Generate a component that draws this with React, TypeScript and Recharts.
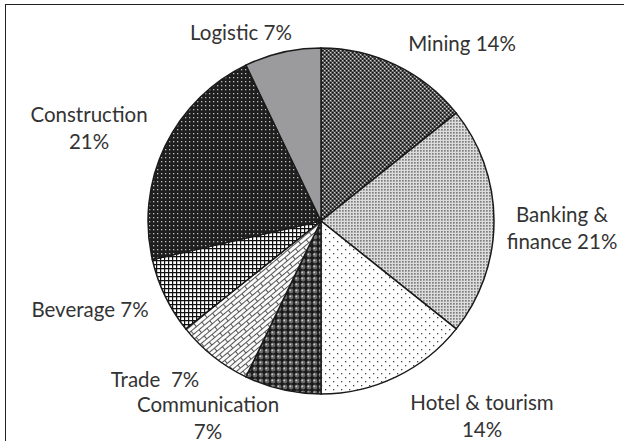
import React from 'react';
import { PieChart, Pie, Cell } from 'recharts';

const sectors = ['Mining', 'Banking & finance', 'Hotel & tourism', 'Communication', 'Trade', 'Beverage', 'Construction', 'Logistic'];
const counts = [2, 3, 2, 1, 1, 1, 3, 1];
const labelTexts = ['Mining 14%', 'Banking &\nfinance 21%', 'Hotel & tourism\n14%', 'Communication\n7%', 'Trade  7%', 'Beverage 7%', 'Construction\n21%', 'Logistic 7%'];
const fills = ['url(#pMining)', 'url(#pBank)', 'url(#pHotel)', 'url(#pComm)', 'url(#pTrade)', 'url(#pBev)', 'url(#pCons)', '#9b9b9e'];

const data = sectors.map((name, i) => ({ name, value: counts[i], text: labelTexts[i] }));

// where each label sits, relative to the pie centre (Excel "best fit" placement)
const labelOffsets: Record<string, [number, number]> = {
  'Mining': [141, -178],
  'Banking & finance': [241, 6],
  'Hotel & tourism': [161, 194],
  'Communication': [-113, 196],
  'Trade': [-166, 158],
  'Beverage': [-231, 88],
  'Construction': [-232, -94],
  'Logistic': [-80, -189],
};

const LINE_H = 27;

const renderLabel = (props: any) => {
  const { cx, cy, name, payload } = props;
  const [dx, dy] = labelOffsets[name] || [0, 0];
  const lines: string[] = (payload?.text || name).split('\n');
  const y0 = cy + dy - ((lines.length - 1) * LINE_H) / 2;
  return (
    <text x={cx + dx} y={y0} textAnchor="middle" dominantBaseline="central"
      fontFamily="Lato, 'Open Sans', sans-serif" fontSize={20.5} fill="#333">
      {lines.map((l, i) => (
        <tspan key={i} x={cx + dx} y={y0 + i * LINE_H} xmlSpace="preserve">{l}</tspan>
      ))}
    </text>
  );
};

const App: React.FC = () => {
  return (
    <div style={{ position: 'relative', width: 624, height: 441, background: '#fff', overflow: 'hidden' }}>
      <style>{'body{margin:0}'}</style>
      <div style={{ position: 'absolute', left: 5, top: 4, width: 619, height: 437, borderTop: '1.5px solid #222', borderLeft: '1.5px solid #222' }} />
      <PieChart width={624} height={441} style={{ position: 'absolute', left: 0, top: 0 }}>
        <defs>
          <pattern id="pMining" width="4" height="4" patternUnits="userSpaceOnUse">
            <rect width="4" height="4" fill="#6f6f6f" />
            <rect x="0" y="0" width="1.6" height="1.6" fill="#111" />
            <rect x="2" y="2" width="1.6" height="1.6" fill="#111" />
            <rect x="2" y="0" width="1" height="1" fill="#cfcfcf" />
            <rect x="0" y="2" width="1" height="1" fill="#cfcfcf" />
          </pattern>
          <pattern id="pBank" width="3" height="3" patternUnits="userSpaceOnUse">
            <rect width="3" height="3" fill="#dcdcdc" />
            <rect x="0" y="0" width="1.7" height="1.7" fill="#7e7e7e" />
          </pattern>
          <pattern id="pHotel" width="8" height="8" patternUnits="userSpaceOnUse">
            <rect width="8" height="8" fill="#fff" />
            <rect x="1" y="1" width="1.3" height="1.3" fill="#444" />
            <rect x="5" y="5" width="1.3" height="1.3" fill="#444" />
          </pattern>
          <pattern id="pComm" width="6" height="6" patternUnits="userSpaceOnUse">
            <rect width="6" height="6" fill="#1a1a1a" />
            <circle cx="3" cy="3" r="2.4" fill="#6a6a6a" />
            <circle cx="2.3" cy="2.3" r="0.9" fill="#d0d0d0" />
          </pattern>
          <pattern id="pTrade" width="14" height="8" patternUnits="userSpaceOnUse" patternTransform="rotate(-40)">
            <rect width="14" height="8" fill="#fafafa" />
            <path d="M0 0.5 H14 M0 4.5 H14 M3.5 0.5 V4.5 M10.5 4.5 V8.5" stroke="#555" strokeWidth="1" fill="none" />
          </pattern>
          <pattern id="pBev" width="4" height="4" patternUnits="userSpaceOnUse">
            <rect width="4" height="4" fill="#fff" />
            <path d="M0 0.6 H4 M0.6 0 V4" stroke="#111" strokeWidth="1.2" />
          </pattern>
          <pattern id="pCons" width="4" height="4" patternUnits="userSpaceOnUse">
            <rect width="4" height="4" fill="#1e1e1e" />
            <rect x="1" y="1" width="1.3" height="1.3" fill="#bdbdbd" />
          </pattern>
        </defs>
        <Pie
          data={data}
          dataKey="value"
          nameKey="name"
          cx={316}
          cy={216}
          outerRadius={173}
          startAngle={90}
          endAngle={-270}
          stroke="#1a1a1a"
          strokeWidth={1.5}
          label={renderLabel}
          labelLine={false}
          isAnimationActive={false}
        >
          {data.map((d, i) => (
            <Cell key={d.name} fill={fills[i]} />
          ))}
        </Pie>
      </PieChart>
    </div>
  );
};

export default App;
